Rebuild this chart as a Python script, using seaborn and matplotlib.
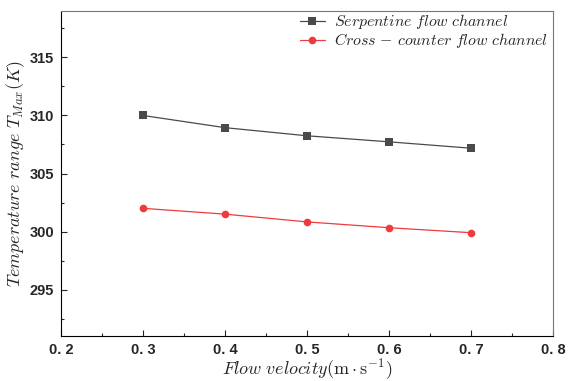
import pandas as pd
import seaborn as sns
import matplotlib.pyplot as plt
from matplotlib.ticker import MultipleLocator

# Data
velocity = [0.3, 0.4, 0.5, 0.6, 0.7]
serpentine = [310.0, 308.95, 308.25, 307.73, 307.18]
cross_counter = [302.0, 301.5, 300.83, 300.33, 299.9]

labels = [r'$Serpentine\ flow\ channel$', r'$Cross\,-\,counter\ flow\ channel$']

df = pd.DataFrame({
    'velocity': velocity * 2,
    'temp': serpentine + cross_counter,
    'channel': [labels[0]] * 5 + [labels[1]] * 5,
})

sns.set_style('ticks')
plt.rcParams['mathtext.fontset'] = 'cm'
plt.rcParams['font.family'] = ['Liberation Sans', 'DejaVu Sans']

fig = plt.figure(figsize=(5.74, 3.81), dpi=100)
ax = fig.add_axes([0.1063, 0.1181, 0.857, 0.853])

sns.lineplot(
    data=df, x='velocity', y='temp', hue='channel', style='channel',
    palette=['#4a4a4a', '#ef3b3b'], markers=['s', 'o'], dashes=False,
    markersize=5.5, markeredgewidth=0, linewidth=0.9, ax=ax,
)

ax.set_xlim(0.2, 0.8)
ax.set_ylim(291, 319)
ax.xaxis.set_major_locator(MultipleLocator(0.1))
ax.xaxis.set_minor_locator(MultipleLocator(0.05))
ax.yaxis.set_minor_locator(MultipleLocator(2.5))
ax.set_yticks([295, 300, 305, 310, 315])
ax.set_xticks([0.2, 0.3, 0.4, 0.5, 0.6, 0.7, 0.8])
ax.set_xticklabels(['0. 2', '0. 3', '0. 4', '0. 5', '0. 6', '0. 7', '0. 8'])
ax.tick_params(which='major', direction='in', length=4, width=0.8, labelsize=10.5, pad=5)
ax.tick_params(which='minor', direction='in', length=2, width=0.8)
for lbl in ax.get_xticklabels() + ax.get_yticklabels():
    lbl.set_fontweight('bold')

for side in ['top', 'right']:
    ax.spines[side].set_color('#777777')
for side in ['left', 'bottom']:
    ax.spines[side].set_color('black')

ax.set_xlabel(r'$Flow\ velocity(\mathrm{m \cdot s^{-1}})$', fontsize=13, labelpad=0)
ax.set_ylabel(r'$Temperature\ range\ T_{Max}(K)$', fontsize=13, labelpad=2)

ax.legend(title=None, frameon=False, loc='upper right', fontsize=11.4,
          handlelength=1.6, labelspacing=0.0, borderaxespad=0.0,
          handletextpad=0.6, bbox_to_anchor=(1.004, 1.015))

plt.savefig('out.png', dpi=100)
